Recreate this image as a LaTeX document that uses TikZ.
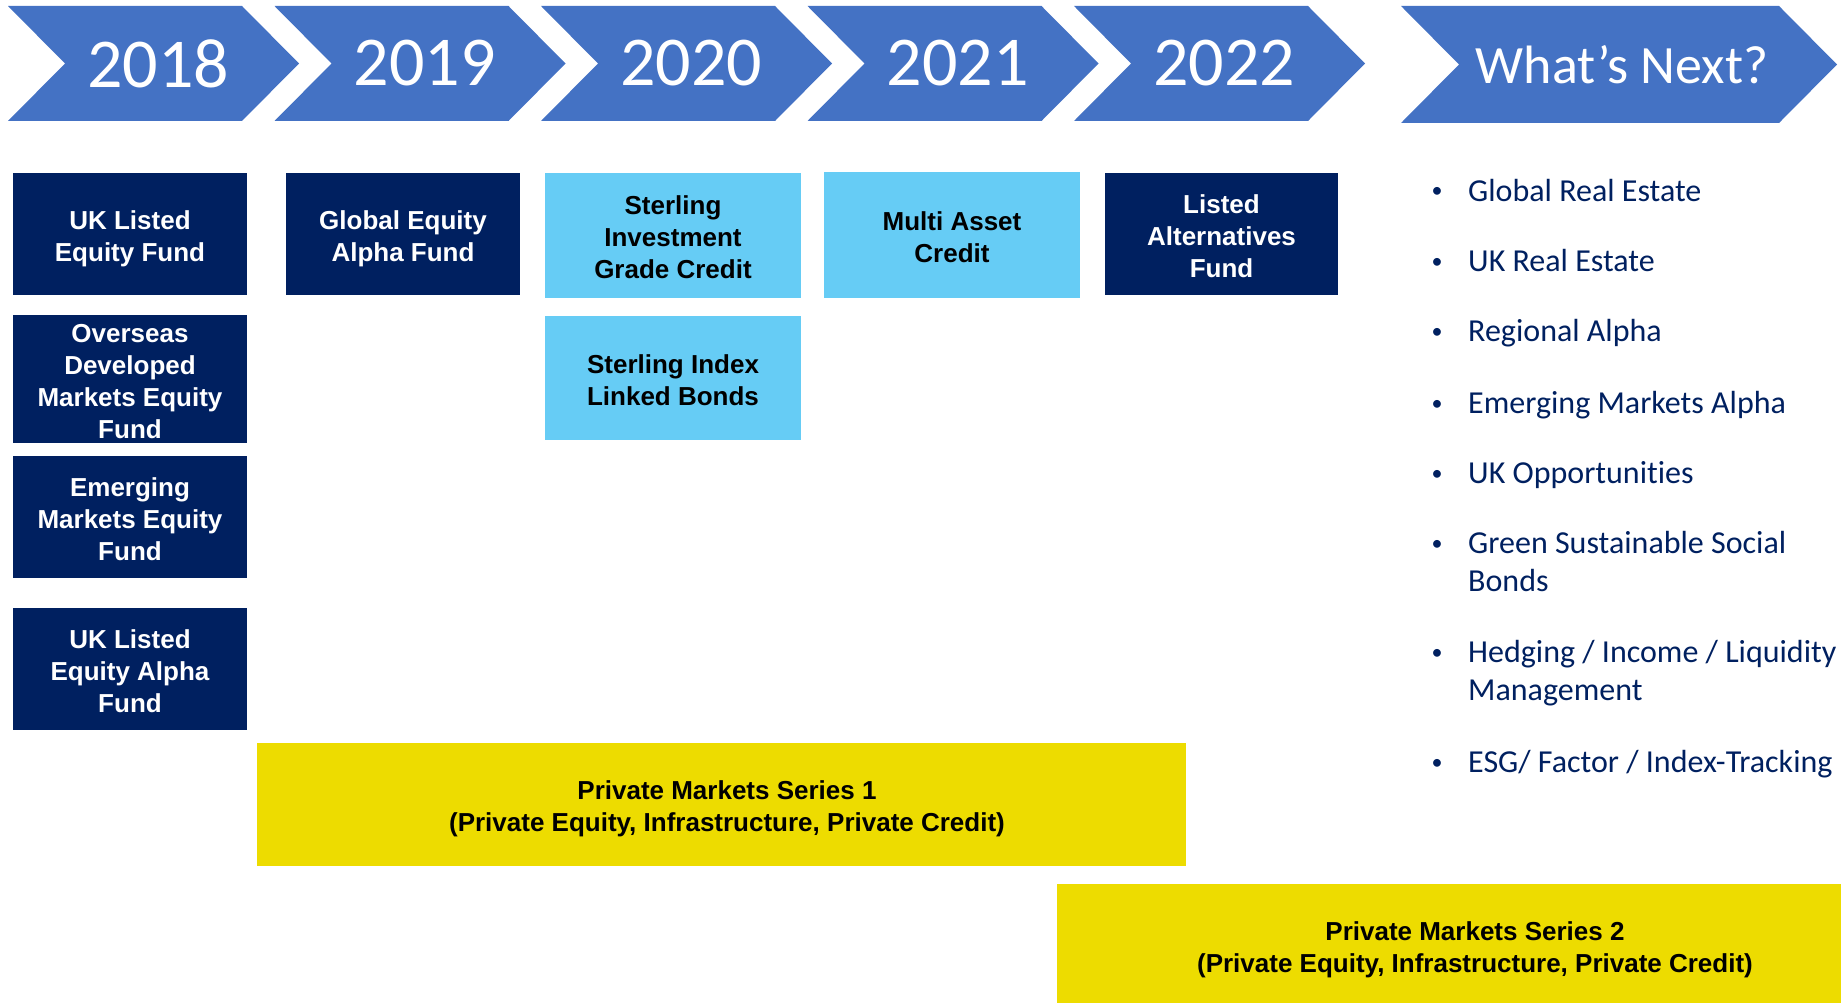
\documentclass[tikz,border=0pt]{standalone}
\usepackage{fontspec}
\setmainfont{Liberation Sans}
\newfontfamily\calibri[Ligatures=NoCommon]{Carlito}
\definecolor{chev}{HTML}{4472C4}
\definecolor{navy}{HTML}{002060}
\definecolor{sky}{HTML}{66CCF5}
\definecolor{gold}{HTML}{EDDC00}
% centred lines with even strut rows, set a little low in their box
\newcommand\boxlines[1]{\raisebox{-5pt}[\height][\depth]{\begin{tabular}{@{}c@{}}#1\end{tabular}}}

\begin{document}
\begin{tikzpicture}[x=1pt,y=-1pt,
  year/.style={text=white, font=\calibri\fontsize{70}{80}\selectfont, inner sep=0pt},
  nextlbl/.style={text=white, font=\calibri\fontsize{54}{64}\selectfont, inner sep=0pt},
  boxtxt/.style={inner sep=0pt, font=\bfseries\fontsize{26}{32}\selectfont},
  fund/.style={boxtxt, fill=navy, text=white},
  credit/.style={boxtxt, fill=sky, text=black},
  privm/.style={fill=gold, inner sep=0pt},
  privtxt/.style={boxtxt, text=black},
  dot/.style={anchor=base, text=navy, font=\calibri\fontsize{22}{26}\selectfont, inner sep=0pt},
  item/.style={anchor=base west, text=navy, font=\calibri\fontsize{32}{38}\selectfont, inner sep=0pt},
]
\useasboundingbox (0,0) rectangle (1841,1003);

% timeline chevrons
\foreach \L/\yr/\nm in {8/2018/y2018, 274.5/2019/y2019, 541/2020/y2020, 807.5/2021/y2021, 1074/2022/y2022}{
  \fill[chev] (\L,6) -- ({\L+234},6) -- ({\L+291},63.5) -- ({\L+234},121) -- (\L,121) -- ({\L+57},63.5) -- cycle;
  \node[year] (\nm) at ({\L+150},63.5) {\yr};
}
\fill[chev] (1401,6) -- (1779,6) -- (1837,64.5) -- (1779,123) -- (1401,123) -- (1459,64.5) -- cycle;
\node[nextlbl] (next) at (1622,64.5) {What’s Next?};

% 2018
\node[fund, minimum width=234, minimum height=122] (ukl)  at (130,234) {\boxlines{UK Listed\\Equity Fund}};
\node[fund, minimum width=234, minimum height=122] (ovs)  at (130,379) {\boxlines{Overseas\\Developed\\Markets Equity\\Fund}};
\node[fund, minimum width=234, minimum height=122] (emg)  at (130,517) {\boxlines{Emerging\\Markets Equity\\Fund}};
\node[fund, minimum width=234, minimum height=122] (ukla) at (130,669) {\boxlines{UK Listed\\Equity Alpha\\Fund}};
% 2019
\node[fund, minimum width=234, minimum height=122] (gea)  at (403,234) {\boxlines{Global Equity\\Alpha Fund}};
% 2020
\node[credit, minimum width=256, minimum height=125] (sigc) at (673,235.5) {\boxlines{Sterling\\Investment\\Grade Credit}};
\node[credit, minimum width=256, minimum height=124] (silb) at (673,378) {\boxlines{Sterling Index\\Linked Bonds}};
% 2021
\node[credit, minimum width=256, minimum height=126] (mac)  at (952,235) {\boxlines{Multi Asset\\Credit}};
% 2022
\node[fund, minimum width=233, minimum height=122] (laf)  at (1221.5,234) {\boxlines{Listed\\Alternatives\\Fund}};

% private markets bands
\node[privm, minimum width=929, minimum height=123] (pm1) at (721.5,804.5) {};
\node[privtxt] (pm1t) at (727,804.5) {\boxlines{Private Markets Series 1\\(Private Equity, Infrastructure, Private Credit)}};
\node[privm, minimum width=784, minimum height=119] (pm2) at (1449,943.5) {};
\node[privtxt] (pm2t) at (1475,945.5) {\boxlines{Private Markets Series 2\\(Private Equity, Infrastructure, Private Credit)}};

% what's next list
\foreach \b/\nm in {201/a, 271/b, 341/c, 413/d, 483/e, 553/f, 662/g, 772/h}{
  \node[dot] (dot\nm) at (1437,\b-3) {•};
}
\node[item] (ia) at (1468,201) {Global Real Estate};
\node[item] (ib) at (1468,271) {UK Real Estate};
\node[item] (ic) at (1468,341) {Regional Alpha};
\node[item] (id) at (1468,413) {Emerging Markets Alpha};
\node[item] (ie) at (1468,483) {UK Opportunities};
\node[item] (if) at (1468,553) {\begin{tabular}[t]{@{}l@{}}Green Sustainable Social\\Bonds\end{tabular}};
\node[item] (ig) at (1468,662) {\begin{tabular}[t]{@{}l@{}}Hedging / Income / Liquidity\\Management\end{tabular}};
\node[item] (ih) at (1468,772) {ESG/ Factor / Index-Tracking};
\end{tikzpicture}
\end{document}
